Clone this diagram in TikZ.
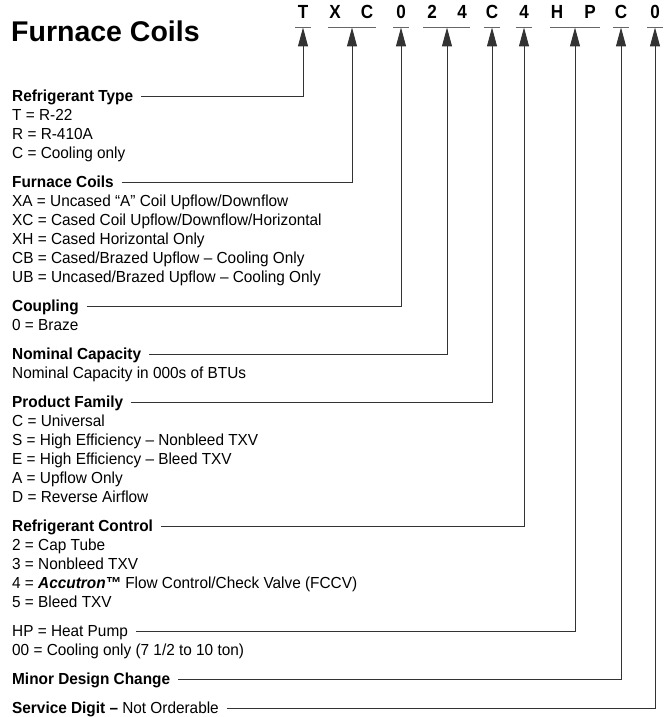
\documentclass[tikz,border=0pt]{standalone}
\usepackage{fontspec}
\setmainfont{Liberation Sans}[FakeStretch=0.96]
\newfontfamily\titlefont{Liberation Sans}
\newfontfamily\codefont{Liberation Sans}[FakeStretch=0.9]
\usetikzlibrary{arrows.meta}
\begin{document}
\begin{tikzpicture}[x=1pt,y=-1pt,
  txt/.style={anchor=west, inner sep=0pt, text height=11.7pt, text depth=0pt, font=\fontsize{16}{19}\selectfont},
  head/.style={txt, font=\fontsize{16}{19}\selectfont\bfseries},
  code/.style={anchor=base, inner sep=0pt, font=\codefont\fontsize{19}{20}\selectfont\bfseries},
  conn/.style={draw=black!80, line width=1pt, -{Triangle[length=19pt,width=10pt]}},
  uline/.style={draw=black!60, line width=1.2pt}]
\useasboundingbox (0,0) rectangle (669,717);
% title
\node[anchor=base west, inner sep=0pt, font=\titlefont\bfseries\fontsize{28.5}{30}\selectfont] (title) at (11,42) {Furnace Coils};
% code letters
\node[code] (l1) at (303,18.5) {T};
\node[code] (l2) at (335,18.5) {X};
\node[code] (l3) at (367,18.5) {C};
\node[code] (l4) at (401,18.5) {0};
\node[code] (l5) at (432,18.5) {2};
\node[code] (l6) at (462,18.5) {4};
\node[code] (l7) at (492,18.5) {C};
\node[code] (l8) at (524,18.5) {4};
\node[code] (l9) at (557,18.5) {H};
\node[code] (l10) at (590,18.5) {P};
\node[code] (l11) at (621,18.5) {C};
\node[code] (l12) at (655,18.5) {0};
% arrow tips
\coordinate (tT) at (303,27.5);
\coordinate (tXC) at (352,27.5);
\coordinate (tCp) at (401,27.5);
\coordinate (tNC) at (447,27.5);
\coordinate (tPF) at (492,27.5);
\coordinate (tRC) at (524,27.5);
\coordinate (tHP) at (575,27.5);
\coordinate (tMD) at (621,27.5);
\coordinate (tSD) at (655,27.5);
% underlines
\draw[uline] ([xshift=-8pt]tT) -- ([xshift=8pt]tT);
\draw[uline] ([xshift=-24pt]tXC) -- ([xshift=24pt]tXC);
\draw[uline] ([xshift=-8pt]tCp) -- ([xshift=8pt]tCp);
\draw[uline] ([xshift=-24pt]tNC) -- ([xshift=23pt]tNC);
\draw[uline] ([xshift=-8pt]tPF) -- ([xshift=8pt]tPF);
\draw[uline] ([xshift=-8pt]tRC) -- ([xshift=8pt]tRC);
\draw[uline] ([xshift=-25pt]tHP) -- ([xshift=25pt]tHP);
\draw[uline] ([xshift=-8pt]tMD) -- ([xshift=8pt]tMD);
\draw[uline] ([xshift=-8pt]tSD) -- ([xshift=8pt]tSD);
% left column
\node[head] (h1) at (12,96) {Refrigerant Type};
\node[txt] (i11) at (12,115) {T = R-22};
\node[txt] (i12) at (12,134) {R = R-410A};
\node[txt] (i13) at (12,153) {C = Cooling only};
\node[head] (h2) at (12,182) {Furnace Coils};
\node[txt] (i21) at (12,201) {XA = Uncased “A” Coil Upflow/Downflow};
\node[txt] (i22) at (12,220) {XC = Cased Coil Upflow/Downflow/Horizontal};
\node[txt] (i23) at (12,239) {XH = Cased Horizontal Only};
\node[txt] (i24) at (12,258) {CB = Cased/Brazed Upflow – Cooling Only};
\node[txt] (i25) at (12,277) {UB = Uncased/Brazed Upflow – Cooling Only};
\node[head] (h3) at (12,306) {Coupling};
\node[txt] (i31) at (12,325) {0 = Braze};
\node[head] (h4) at (12,354) {Nominal Capacity};
\node[txt] (i41) at (12,373) {Nominal Capacity in 000s of BTUs};
\node[head] (h5) at (12,402) {Product Family};
\node[txt] (i51) at (12,421) {C = Universal};
\node[txt] (i52) at (12,440) {S = High Efficiency – Nonbleed TXV};
\node[txt] (i53) at (12,459) {E = High Efficiency – Bleed TXV};
\node[txt] (i54) at (12,478) {A = Upflow Only};
\node[txt] (i55) at (12,497) {D = Reverse Airflow};
\node[head] (h6) at (12,526) {Refrigerant Control};
\node[txt] (i61) at (12,545) {2 = Cap Tube};
\node[txt] (i62) at (12,564) {3 = Nonbleed TXV};
\node[txt] (i63) at (12,583) {4 = \textbf{\textit{Accutron™}} Flow Control/Check Valve (FCCV)};
\node[txt] (i64) at (12,602) {5 = Bleed TXV};
\node[txt] (h7) at (12,631) {HP = Heat Pump};
\node[txt] (i71) at (12,650) {00 = Cooling only (7 1/2 to 10 ton)};
\node[head] (h8) at (12,679) {Minor Design Change};
\node[txt] (h9) at (12,708) {\textbf{Service Digit –} Not Orderable};
% connectors
\draw[conn] ([xshift=8pt]h1.east) -| (tT);
\draw[conn] ([xshift=8pt]h2.east) -| (tXC);
\draw[conn] ([xshift=8pt]h3.east) -| (tCp);
\draw[conn] ([xshift=8pt]h4.east) -| (tNC);
\draw[conn] ([xshift=8pt]h5.east) -| (tPF);
\draw[conn] ([xshift=8pt]h6.east) -| (tRC);
\draw[conn] ([xshift=8pt]h7.east) -| (tHP);
\draw[conn] ([xshift=8pt]h8.east) -| (tMD);
\draw[conn] ([xshift=8pt]h9.east) -| (tSD);
\end{tikzpicture}
\end{document}
